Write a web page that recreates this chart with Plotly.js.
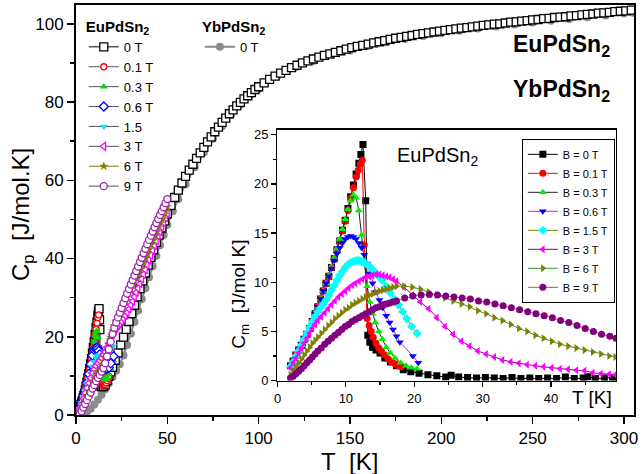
<!DOCTYPE html>
<html>
<head>
<meta charset="utf-8">
<script src="https://cdn.plot.ly/plotly-3.0.1.min.js"></script>
<style>html,body{margin:0;padding:0;background:#fff;}#chart{width:641px;height:474px;}</style>
</head>
<body>
<div id="chart"></div>
<script>
// ---------- MAIN PLOT DATA: Cp (J/mol K) vs T (K) ----------
const euT0 = [1.9,2.3,2.7,3.1,3.5,3.9,4.3,4.7,5.1,5.5,6.0,6.5,7,7.5,8,8.5,9,9.5,10,10.5,11,11.5,12,12.3,12.6,12.9,13.05,13.2,13.6,14.2,15,16,17,18,19,20,21.5,23,24.5,26,27.5,29,30.5,32,33.5,35,36.5,38,39.5,41,42.5,44,45.5,47,48.5,50,
52,54,56,58,60,62,64,66,68,70,72,74,76,78,80,82,84,86,88,90,92,94,96,98,100,
103,106,109,112,115,118,121,124,127,130,133,136,139,142,145,148,151,154,157,160,163,166,169,172,175,178,181,184,187,190,193,196,199,202,205,208,211,214,217,220,223,226,229,232,235,238,241,244,247,250,253,256,259,262,265,268,271,274,277,280,283,286,289,292,295,298,301,304];
const euCp0 = [1.55,2.1,2.7,3.2,3.75,4.4,4.95,5.6,6.4,7.3,8.4,9.45,10.6,11.8,13.1,14.4,15.8,17.3,18.8,20.6,22.3,23.8,25.4,26.4,27.2,24.3,21.8,8.1,7.4,7.2,7.3,7.7,8.8,9.9,11.0,12.2,14.0,15.9,17.9,19.9,21.9,23.9,25.9,28.1,30.2,32.3,34.3,36.3,38.3,40.3,42.2,44.1,46.0,47.8,49.6,51.4,
53.6,55.6,57.5,59.3,61.0,62.6,64.1,65.6,67.0,68.4,69.8,71.1,72.4,73.6,74.8,75.9,77.0,78.0,79.0,79.9,80.8,81.6,82.4,83.2,83.9,
84.9,85.8,86.6,87.4,88.1,88.8,89.4,90.0,90.5,91.0,91.5,91.9,92.3,92.7,93.1,93.5,93.9,94.2,94.5,94.8,95.1,95.4,95.7,96.0,96.3,96.5,96.8,97.0,97.3,97.5,97.7,97.9,98.1,98.3,98.5,98.7,98.9,99.0,99.2,99.4,99.6,99.7,99.9,100.0,100.2,100.4,100.5,100.7,100.8,101.0,101.1,101.3,101.4,101.6,101.7,101.8,102.0,102.1,102.3,102.4,102.5,102.7,102.8,102.9,103.1,103.2,103.3,103.5];

const ybT = [2,4,6,8,10,12,14,16,18,20,22,24,26,28,30,32,34,36,38,40,42,44,46,48,50,53,56,60,65,70,75,80,85,90,95,100,110,120,130,140,150,160,170,180,190,200,210,220,230,240,250,260,270,280,290,300,305];
const ybCp = [0.05,0.3,0.8,1.6,2.7,3.9,5.2,6.6,8.1,9.7,11.3,13.0,15.2,17.9,20.8,23.8,26.7,29.6,32.4,35.2,38.0,40.7,43.4,46.0,48.6,52.1,55.2,59.0,63.3,67.1,70.6,73.8,76.8,79.3,81.5,83.3,86.5,88.9,90.5,92.0,93.2,94.3,95.3,96.1,96.9,97.6,98.2,98.8,99.3,99.8,100.3,100.8,101.2,101.7,102.1,102.6,102.8];

const euT01 = [2,2.5,3,3.5,4,4.5,5,5.5,6,6.5,7,7.5,8,8.5,9,9.5,10,10.5,11,11.5,12,12.4,12.7,13.1,13.5,14,14.5,15,15.5,16,16.5,17,17.5,18];
const euCp01 = [1.65,2.4,3.05,3.75,4.6,5.3,6.2,7.3,8.4,9.55,10.7,11.8,13.1,14.4,15.8,17.2,18.7,20.3,21.9,23.5,24.9,25.6,17.1,9.8,9.0,8.3,7.9,7.6,7.7,7.8,8.2,8.8,9.3,9.9];

const euT03 = [2,3,4,5,6,7,8,9,9.5,10,10.5,11,11.5,12,12.5,13,13.5,14,14.5,15,16,17,18,19,20.4];
const euCp03 = [1.65,3.05,4.6,6.2,8.4,10.7,13.2,15.9,17.4,18.8,20.2,21.4,21.4,19.8,16.6,13.6,11.7,10.5,9.8,9.3,9.0,9.5,10.3,11.8,14.0];

const euT06 = [2,3,4,5,6,7,8,9,10,10.5,11,11.5,12,12.5,13,13.5,14,15,16,17,18,19,20.6];
const euCp06 = [1.65,3.1,4.65,6.3,8.2,10.5,13.0,15.2,16.6,17.0,17.2,17.2,16.9,16.4,15.5,14.6,13.7,12.4,11.8,11.9,12.1,13.2,15.0];

const euT15 = [2,3,4,5,6,7,8,9,10,11,12,13,14,15,16,17,18,19,20.4];
const euCp15 = [1.55,3.0,4.75,6.3,7.8,9.0,10.7,12.4,13.7,14.6,15.2,15.3,15.2,15.0,14.8,15.3,15.8,16.5,17.6];

const euTh = [2,3,4,5,6,7,8,9,10,11,12,13,14,15,16,17,18,19,20,21,22,23,24,25,26,27,28,29,30,31,32,33,34,35,36,37,38,39,40,41,42,43,44,45,46,47,48,49,50];
const euCp3 = [1.45,2.7,4.15,5.6,6.9,8.2,9.5,10.7,11.7,12.5,13.2,13.9,14.6,15.3,16.1,17.3,18.3,19.4,20.6,21.5,22.2,22.8,23.3,23.9,24.6,25.4,26.2,27.1,28.1,29.1,30.2,31.3,32.4,33.55,34.75,35.95,37.15,38.4,39.6,40.8,42.05,43.3,44.55,45.8,46.9,48.05,49.2,50.35,51.5];
const euCp6 = [0.7,1.7,2.85,3.9,5.0,6.1,7.3,8.4,9.4,10.3,11.1,11.9,12.75,13.6,14.8,16.5,18.1,19.85,21.55,22.9,24.0,25.05,26.05,27.1,28.1,29.15,30.2,31.2,32.2,33.2,34.2,35.2,36.25,37.25,38.25,39.3,40.3,41.35,42.4,43.45,44.5,45.6,46.7,47.85,49.0,50.05,51.1,52.2,53.3];
const euCp9 = [0.3,0.95,1.9,2.8,3.8,4.75,5.75,6.75,7.7,8.65,9.5,10.25,11.1,12.0,13.25,15.0,16.75,18.75,20.7,22.3,23.65,24.95,26.15,27.35,28.6,29.85,31.05,32.2,33.35,34.5,35.65,36.8,37.95,39.1,40.2,41.35,42.5,43.65,44.75,45.85,46.9,48.0,49.05,50.1,51.15,52.1,53.1,54.15,55.2];

// ---------- INSET DATA: Cm (J/mol K) vs T (K) ----------
const inT0 = [1.9,2.3,2.7,3.1,3.5,3.9,4.3,4.7,5.1,5.5,5.9,6.3,6.7,7.1,7.5,7.9,8.3,8.7,9.1,9.5,9.9,10.3,10.7,11.1,11.5,11.9,12.2,12.5,12.9,13.2,13.5,13.9,14.4,15.0,15.7,16.5,17.4,18.4,19.5,20.7,22.0,23.3,24.6,25.4,26.5,27.8,29.1,30.4,31.7,33.0,34.3,35.6,36.9,38.2,39.5,40.8,42.1,43.4,44.7,45.4,46.5,47.8,49.0];
const inC0 = [1.5,2.0,2.6,3.1,3.6,4.2,4.7,5.3,6.0,6.8,7.5,8.3,9.1,9.9,10.6,11.5,12.4,13.3,14.2,15.3,16.3,17.5,18.7,19.9,21.0,22.1,23.0,24.0,18.3,4.6,3.9,3.4,3.1,2.8,2.3,1.9,1.5,1.1,0.9,0.75,0.6,0.5,0.35,0.55,0.35,0.3,0.25,0.3,0.25,0.2,0.3,0.2,0.25,0.2,0.25,0.2,0.35,0.2,0.25,0.4,0.2,0.25,0.3];

const inT01 = [1.9,2.3,2.7,3.1,3.5,3.9,4.3,4.7,5.1,5.5,5.9,6.3,6.7,7.1,7.5,7.9,8.3,8.7,9.1,9.5,9.9,10.3,10.7,11.1,11.5,11.8,12.1,12.4,12.7,13.1,13.4,13.7,14.0,14.4,14.8,15.2,15.7,16.2,16.7,17.2,17.7,18.1];
const inC01 = [1.5,2.0,2.6,3.1,3.6,4.2,4.7,5.3,6.0,6.8,7.5,8.3,9.1,9.9,10.6,11.5,12.4,13.3,14.2,15.2,16.2,17.3,18.5,19.6,20.7,21.4,22.0,22.4,13.8,6.3,5.6,5.0,4.4,3.8,3.3,3.0,2.6,2.2,1.9,1.7,1.5,1.4];

const inT03 = [1.9,2.3,2.7,3.1,3.5,3.9,4.3,4.7,5.1,5.5,5.9,6.3,6.7,7.1,7.5,7.9,8.3,8.7,9.1,9.5,9.9,10.3,10.7,11.1,11.5,11.9,12.3,12.7,13.1,13.5,13.9,14.3,14.8,15.3,15.9,16.5,17.2,18.0,18.8,19.6,20.4];
const inC03 = [1.5,2.0,2.6,3.1,3.6,4.2,4.7,5.3,6.0,6.8,7.5,8.3,9.1,9.9,10.7,11.6,12.5,13.4,14.4,15.4,16.4,17.4,18.3,18.9,18.6,17.3,14.8,12.0,9.6,8.0,6.8,5.9,5.0,4.2,3.4,2.8,2.3,1.8,1.5,1.3,1.2];

const inT06 = [1.9,2.3,2.7,3.1,3.5,3.9,4.3,4.7,5.1,5.5,5.9,6.3,6.7,7.1,7.5,7.9,8.3,8.7,9.1,9.5,9.9,10.3,10.7,11.1,11.5,11.9,12.3,12.7,13.1,13.5,13.9,14.4,14.9,15.4,15.9,16.4,16.9,17.4,17.9,19.8,20.6];
const inC06 = [1.5,2.0,2.6,3.1,3.7,4.3,4.8,5.4,6.1,6.8,7.5,8.3,9.1,9.9,10.6,11.4,12.2,12.9,13.5,14.0,14.4,14.6,14.7,14.6,14.4,14.0,13.5,12.8,11.9,10.9,9.9,9.0,8.2,7.4,6.6,5.9,5.2,4.5,3.9,2.5,1.8];

const inT15 = [1.9,2.3,2.7,3.1,3.5,3.9,4.3,4.7,5.1,5.5,5.9,6.3,6.7,7.1,7.5,7.9,8.3,8.7,9.1,9.5,9.9,10.3,10.7,11.1,11.5,11.9,12.3,12.7,13.1,13.5,13.9,14.3,14.8,15.3,15.9,16.5,17.1,17.7,18.3,18.9,19.6,20.4];
const inC15 = [1.4,1.9,2.5,3.0,3.6,4.2,4.8,5.4,6.0,6.5,7.0,7.4,7.8,8.2,8.7,9.2,9.7,10.2,10.7,11.1,11.5,11.8,12.0,12.1,12.2,12.2,12.1,12.0,11.8,11.6,11.3,11.0,10.6,10.2,9.6,8.9,8.3,7.7,7.0,6.3,5.5,4.8];

const inT3 = [1.9,2.3,2.7,3.1,3.5,3.9,4.3,4.7,5.1,5.5,5.9,6.4,6.9,7.4,7.9,8.4,8.9,9.4,9.9,10.4,10.9,11.4,11.9,12.4,12.9,13.4,13.9,14.4,14.9,15.4,15.9,16.4,16.9,17.4,18.5,19.7,20.9,22.1,23.3,24.5,25.7,26.9,28.1,29.3,30.5,31.7,32.9,34.1,35.3,36.5,37.7,38.9,40.1,41.3,42.5,43.7,44.9,46.1,47.3,48.5,49.4];
const inC3 = [1.3,1.8,2.3,2.8,3.3,3.8,4.3,4.8,5.3,5.7,6.1,6.5,6.9,7.3,7.7,8.1,8.5,8.8,9.1,9.4,9.7,9.9,10.1,10.3,10.5,10.6,10.7,10.8,10.8,10.7,10.6,10.5,10.3,10.1,9.5,8.7,8.0,7.3,6.4,5.5,4.7,4.0,3.5,3.0,2.7,2.4,2.1,1.9,1.75,1.6,1.5,1.4,1.3,1.2,1.15,1.05,1.0,0.8,0.7,0.65,0.6];

const inT6 = [1.9,2.3,2.7,3.1,3.5,3.9,4.3,4.7,5.1,5.5,5.9,6.4,6.9,7.4,7.9,8.4,8.9,9.4,9.9,10.4,10.9,11.4,11.9,12.4,12.9,13.4,13.9,14.4,14.9,15.4,15.9,16.4,16.9,17.4,18.5,19.7,20.9,22.1,23.3,24.5,25.7,26.9,28.1,29.3,30.5,31.7,32.9,34.1,35.3,36.5,37.7,38.9,40.1,41.3,42.5,43.7,44.9,46.1,47.3,48.5,49.4];
const inC6 = [0.6,1.0,1.4,1.8,2.2,2.6,3.0,3.4,3.8,4.1,4.4,4.8,5.2,5.6,5.9,6.3,6.6,6.9,7.2,7.4,7.7,7.9,8.1,8.3,8.5,8.7,8.8,9.0,9.1,9.2,9.3,9.4,9.5,9.6,9.6,9.5,9.3,9.0,8.7,8.4,8.1,7.8,7.5,7.1,6.8,6.4,6.1,5.7,5.3,5.0,4.6,4.3,4.0,3.7,3.5,3.3,3.1,2.9,2.7,2.5,2.4];

const inT9 = [1.9,2.3,2.7,3.1,3.5,3.9,4.3,4.7,5.1,5.5,5.9,6.4,6.9,7.4,7.9,8.4,8.9,9.4,9.9,10.4,10.9,11.4,11.9,12.4,12.9,13.4,13.9,14.4,14.9,15.4,15.9,16.4,16.9,17.4,18.6,19.8,21.0,22.2,23.4,24.6,25.8,27.0,28.2,29.4,30.6,31.8,33.0,34.2,35.4,36.6,37.8,39.0,40.2,41.4,42.6,43.8,45.0,46.2,47.4,48.6,49.5];
const inC9 = [0.25,0.45,0.7,0.95,1.2,1.5,1.8,2.1,2.4,2.7,3.0,3.3,3.7,4.0,4.3,4.6,4.9,5.2,5.5,5.7,6.0,6.2,6.4,6.6,6.8,7.0,7.2,7.4,7.5,7.7,7.8,7.9,8.0,8.1,8.4,8.6,8.7,8.75,8.7,8.6,8.5,8.4,8.3,8.1,8.0,7.8,7.6,7.4,7.2,7.0,6.8,6.6,6.4,6.1,5.9,5.6,5.3,5.0,4.7,4.5,4.3];

// ---------- LABELS ----------
const mainNames = ['0 T','0.1 T','0.3 T','0.6 T','1.5','3 T','6 T','9 T'];
const ybName = '0 T';
const insetNames = ['B = 0 T','B = 0.1 T','B = 0.3 T','B = 0.6 T','B = 1.5 T','B = 3 T','B = 6 T','B = 9 T'];

const FONT = 'Arial, "Liberation Sans", sans-serif';
const legLine = '#555';
const SP = '\u00a0';

const traces = [];
traces.push({x: ybT, y: ybCp, name: ybName, legend: 'legend2', mode: 'lines+markers',
  line: {color: '#888', width: 2}, marker: {symbol: 'circle', size: 8, color: '#8a8a8a'}, xaxis: 'x', yaxis: 'y'});
const mainSets = [
  [euT0, euCp0, {symbol: 'square', size: 8, color: 'white', line: {color: 'black', width: 1.3}}, 'black'],
  [euT01, euCp01, {symbol: 'circle', size: 6, color: 'white', line: {color: 'red', width: 1.3}}, legLine],
  [euT03, euCp03, {symbol: 'triangle-up', size: 7, color: '#00dd00'}, legLine],
  [euT06, euCp06, {symbol: 'diamond', size: 7, color: 'white', line: {color: '#0000ff', width: 1.3}}, legLine],
  [euT15, euCp15, {symbol: 'triangle-down', size: 7, color: '#00e8f8'}, legLine],
  [euTh, euCp3, {symbol: 'triangle-left', size: 7, color: 'white', line: {color: '#ff00ff', width: 1.3}}, legLine],
  [euTh, euCp6, {symbol: 'star', size: 7, color: '#808000'}, '#808000'],
  [euTh, euCp9, {symbol: 'circle', size: 7, color: 'white', line: {color: '#9a20a8', width: 1.3}}, legLine]
];
mainSets.forEach((s, i) => {
  traces.push({x: s[0], y: s[1], name: mainNames[i], legend: 'legend', mode: 'lines+markers',
    line: {color: s[3], width: 1}, marker: s[2], xaxis: 'x', yaxis: 'y'});
});
const insetSets = [
  [inT0, inC0, 'square', 'black', 'black'],
  [inT01, inC01, 'circle', '#ff0000', '#ff0000'],
  [inT03, inC03, 'triangle-up', '#00ee00', '#222'],
  [inT06, inC06, 'triangle-down', '#0000ff', '#ff00ff'],
  [inT15, inC15, 'diamond', '#00ffff', '#808000'],
  [inT3, inC3, 'triangle-left', '#ff00ff', '#800080'],
  [inT6, inC6, 'triangle-right', '#808000', '#2e9e2e'],
  [inT9, inC9, 'circle', '#800080', '#c05050']
];
insetSets.forEach((s, i) => {
  traces.push({x: s[0], y: s[1], name: insetNames[i], legend: 'legend3', mode: 'lines+markers',
    line: {color: s[4], width: 1}, marker: {symbol: s[2], size: 7, color: s[3]}, xaxis: 'x2', yaxis: 'y2'});
});

const XMAX = 305.5, YMAX = 104.8, IXMAX = 49.5, IYMAX = 25.5;
const D2X = [0.3611, 0.9677], D2Y = [0.084, 0.6955];
const baseAx = {showgrid: false, zeroline: false, color: 'black', automargin: false};

const layout = {
  width: 641, height: 474,
  margin: {l: 76, r: 7, t: 5, b: 59},
  paper_bgcolor: 'white', plot_bgcolor: 'white',
  font: {family: FONT, color: 'black'},
  showlegend: true,
  xaxis: Object.assign({}, baseAx, {range: [0, XMAX], tick0: 0, dtick: 50, ticks: 'outside', ticklen: 7, tickwidth: 1.5,
    minor: {dtick: 25, ticks: 'outside', ticklen: 4, tickwidth: 1.5}, showline: true, linewidth: 2, linecolor: 'black', mirror: true,
    tickfont: {size: 17, family: FONT}}),
  yaxis: Object.assign({}, baseAx, {range: [0, YMAX], tick0: 0, dtick: 20, ticks: 'outside', ticklen: 7, tickwidth: 1.5,
    minor: {dtick: 10, ticks: 'outside', ticklen: 4, tickwidth: 1.5}, showline: true, linewidth: 2, linecolor: 'black', mirror: true,
    tickfont: {size: 17, family: FONT}}),
  xaxis3: Object.assign({}, baseAx, {overlaying: 'x', side: 'top', anchor: 'y', range: [0, XMAX], tick0: 0, dtick: 50,
    ticks: 'inside', ticklen: 7, tickwidth: 1.5, minor: {dtick: 25, ticks: 'inside', ticklen: 4, tickwidth: 1.5}, showticklabels: false, showline: false}),
  yaxis3: Object.assign({}, baseAx, {overlaying: 'y', side: 'right', anchor: 'x', range: [0, YMAX], tick0: 0, dtick: 20,
    ticks: 'inside', ticklen: 7, tickwidth: 1.5, minor: {dtick: 10, ticks: 'inside', ticklen: 4, tickwidth: 1.5}, showticklabels: false, showline: false}),
  xaxis2: Object.assign({}, baseAx, {domain: D2X, anchor: 'y2', range: [0, IXMAX], tick0: 0, dtick: 10, ticks: 'outside', ticklen: 5, tickwidth: 1.2,
    minor: {dtick: 5, ticks: 'outside', ticklen: 3, tickwidth: 1.2}, showline: true, linewidth: 1.5, linecolor: 'black', mirror: true,
    tickfont: {size: 13, family: FONT}}),
  yaxis2: Object.assign({}, baseAx, {domain: D2Y, anchor: 'x2', range: [0, IYMAX], tick0: 0, dtick: 5, ticks: 'outside', ticklen: 5, tickwidth: 1.2,
    minor: {dtick: 2.5, ticks: 'outside', ticklen: 3, tickwidth: 1.2}, showline: true, linewidth: 1.5, linecolor: 'black', mirror: true,
    tickfont: {size: 13, family: FONT}}),
  xaxis4: Object.assign({}, baseAx, {overlaying: 'x2', side: 'top', anchor: 'y2', range: [0, IXMAX], tick0: 0, dtick: 10,
    ticks: 'inside', ticklen: 5, tickwidth: 1.2, minor: {dtick: 5, ticks: 'inside', ticklen: 3, tickwidth: 1.2}, showticklabels: false, showline: false}),
  yaxis4: Object.assign({}, baseAx, {overlaying: 'y2', side: 'right', anchor: 'x2', range: [0, IYMAX], tick0: 0, dtick: 5,
    ticks: 'inside', ticklen: 5, tickwidth: 1.2, minor: {dtick: 2.5, ticks: 'inside', ticklen: 3, tickwidth: 1.2}, showticklabels: false, showline: false}),
  legend: {x: 0.014, y: 0.982, xanchor: 'left', yanchor: 'top', bgcolor: 'rgba(0,0,0,0)', borderwidth: 0,
    font: {size: 13, family: FONT}, title: {text: '<b>EuPdSn<sub>2</sub></b>', font: {size: 15, family: FONT}}, tracegroupgap: 0},
  legend2: {x: 0.222, y: 0.982, xanchor: 'left', yanchor: 'top', bgcolor: 'rgba(0,0,0,0)', borderwidth: 0,
    font: {size: 13, family: FONT}, title: {text: '<b>YbPdSn<sub>2</sub></b>', font: {size: 15, family: FONT}}},
  legend3: {x: 0.799, y: 0.6736, xanchor: 'left', yanchor: 'top', bgcolor: 'white', bordercolor: 'black', borderwidth: 1,
    font: {size: 11, family: FONT}, tracegroupgap: 0},
  annotations: [
    {xref: 'paper', yref: 'paper', x: 0.491, y: -0.0755, text: 'T' + SP + SP + '[K]', showarrow: false, xanchor: 'center', yanchor: 'top', font: {size: 24}},
    {xref: 'paper', yref: 'paper', x: -0.0968, y: 0.49, text: 'C<sub>p</sub>' + SP + SP + '[J/mol.K]', textangle: -90, showarrow: false, xanchor: 'center', yanchor: 'middle', font: {size: 24}},
    {xref: 'paper', yref: 'paper', x: 0.9606, y: 0.902, text: '<b>EuPdSn<sub>2</sub></b>', showarrow: false, xanchor: 'right', yanchor: 'middle', font: {size: 23}},
    {xref: 'paper', yref: 'paper', x: 0.9606, y: 0.792, text: '<b>YbPdSn<sub>2</sub></b>', showarrow: false, xanchor: 'right', yanchor: 'middle', font: {size: 23}},
    {xref: 'paper', yref: 'paper', x: 0.647, y: 0.63, text: 'EuPdSn<sub>2</sub>', showarrow: false, xanchor: 'center', yanchor: 'middle', font: {size: 20}},
    {xref: 'paper', yref: 'paper', x: 0.294, y: 0.2935, text: 'C<sub>m</sub>' + SP + SP + '[J/mol K]', textangle: -90, showarrow: false, xanchor: 'center', yanchor: 'middle', font: {size: 19}},
    {xref: 'paper', yref: 'paper', x: 0.925, y: 0.043, text: 'T [K]', showarrow: false, xanchor: 'center', yanchor: 'middle', font: {size: 19}}
  ]
};

Plotly.newPlot('chart', traces, layout, {displayModeBar: false, staticPlot: true});
</script>
</body>
</html>
